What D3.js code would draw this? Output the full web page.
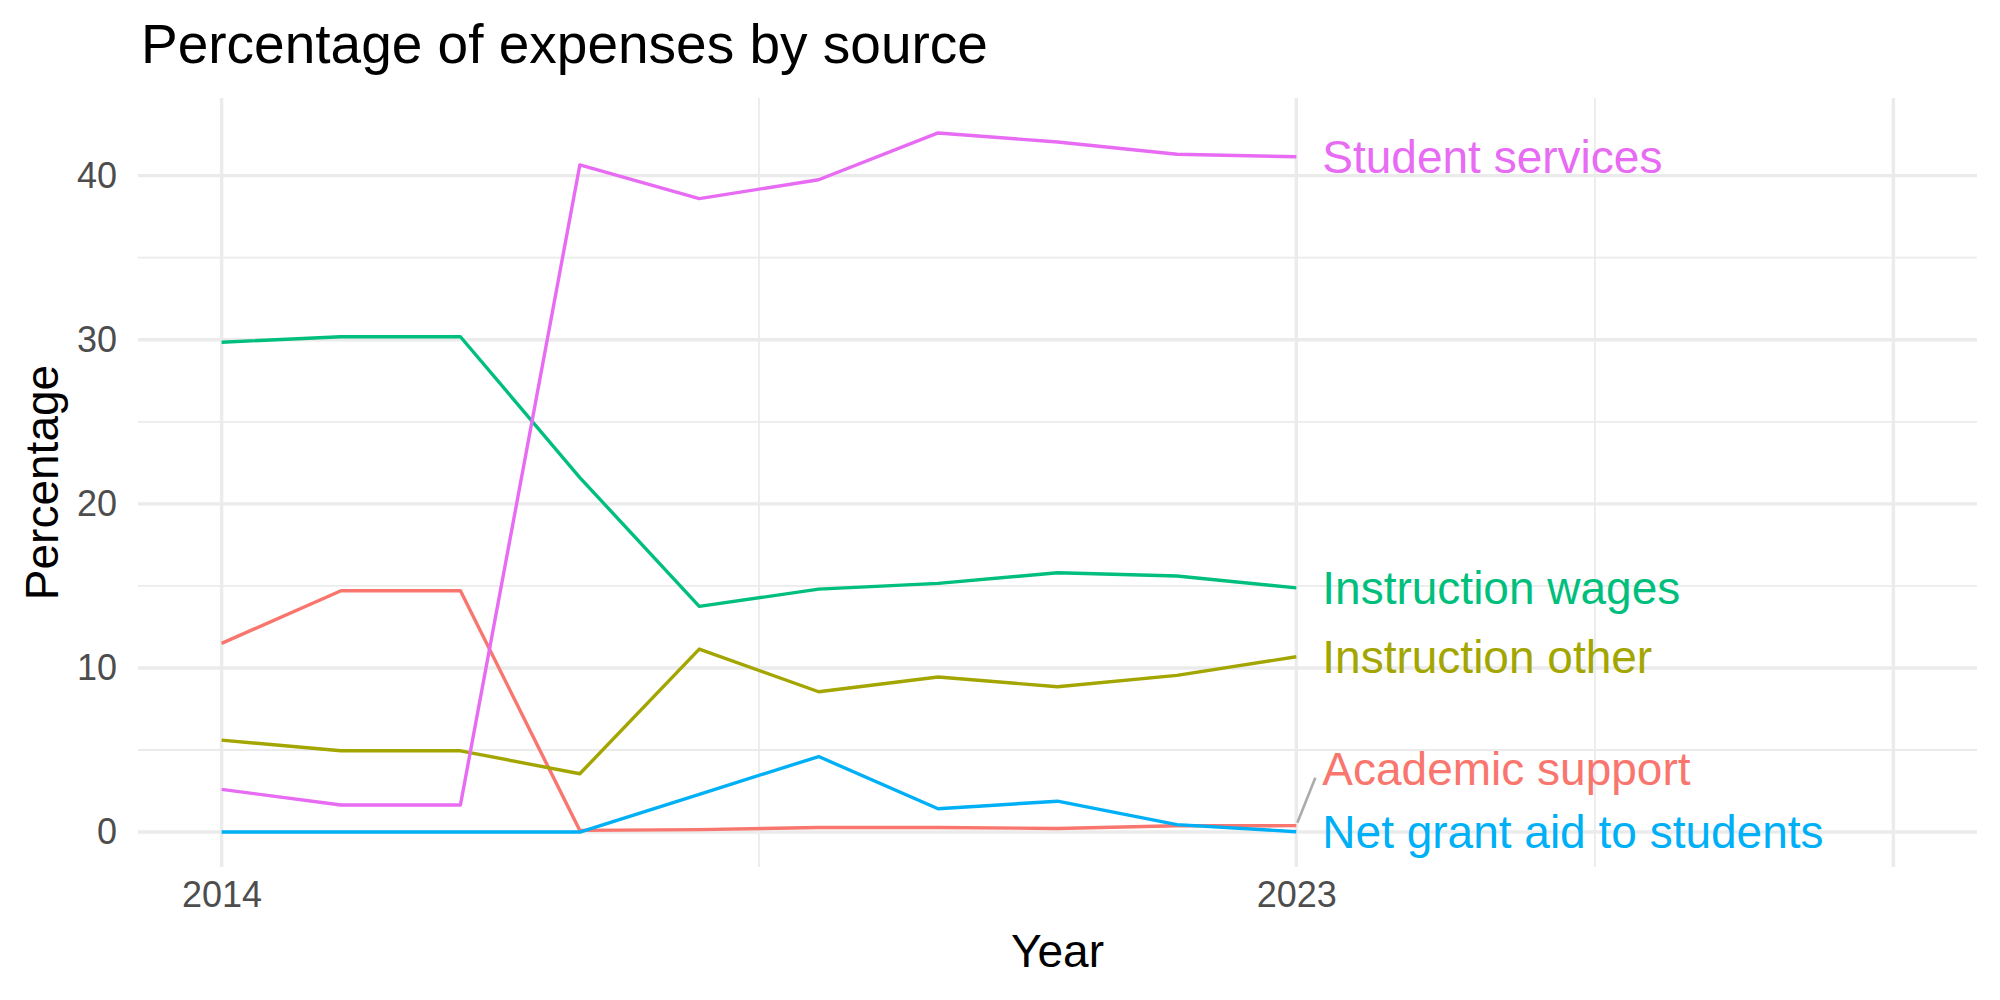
<!DOCTYPE html>
<html>
<head>
<meta charset="utf-8">
<script src="https://cdn.jsdelivr.net/npm/d3@7"></script>
<style>
  body { margin: 0; background: #fff; }
  svg { display: block; }
  text { font-family: "Liberation Sans", Arial, Helvetica, sans-serif; }
</style>
</head>
<body>
<div id="chart"></div>
<script>
// data
const years = [2014, 2015, 2016, 2017, 2018, 2019, 2020, 2021, 2022, 2023];
const sources = ["Academic support", "Instruction other", "Instruction wages", "Net grant aid to students", "Student services"];
const academicSupport  = [11.5, 14.7, 14.7, 0.1, 0.15, 0.28, 0.28, 0.22, 0.38, 0.39];
const instructionOther = [5.6, 4.95, 4.95, 3.55, 11.15, 8.55, 9.45, 8.85, 9.55, 10.68];
const instructionWages = [29.85, 30.18, 30.18, 21.6, 13.75, 14.8, 15.15, 15.8, 15.6, 14.88];
const netGrantAid      = [0, 0, 0, 0, 2.3, 4.6, 1.42, 1.88, 0.45, 0.02];
const studentServices  = [2.6, 1.65, 1.65, 40.65, 38.6, 39.75, 42.6, 42.05, 41.3, 41.15];
const palette = ["#F8766D", "#A3A500", "#00BF7D", "#00B0F6", "#E76BF3"];

const xLimits = [2014, 2028];          // x range kept wide for the end labels
const xMajor = [2014, 2023, 2028];
const xMinor = [2018.5, 2025.5];
const xLabelled = [2014, 2023];
const yMajor = [0, 10, 20, 30, 40];
const yMinor = [5, 15, 25, 35];

(function() {
    const width = 2000
    const height = 1000
    const panel = { left: 138, right: 1977, top: 98, bottom: 867 }

    const svg = d3.select("#chart")
        .append("svg")
        .attr("width", width)
        .attr("height", height)

    const table = [academicSupport, instructionOther, instructionWages, netGrantAid, studentServices]
        .map((vals, i) => ({
            name: sources[i],
            color: palette[i],
            values: vals.map((v, j) => ({ year: years[j], value: v }))
        }))

    // ggplot-like 5% expansion
    const xPad = (xLimits[1] - xLimits[0]) * 0.05
    const x = d3.scaleLinear()
        .domain([xLimits[0] - xPad, xLimits[1] + xPad])
        .range([panel.left, panel.right])

    const allVals = table.flatMap(s => s.values.map(d => d.value))
    const yMin = d3.min(allVals), yMax = d3.max(allVals)
    const yPad = (yMax - yMin) * 0.05
    const y = d3.scaleLinear()
        .domain([yMin - yPad, yMax + yPad])
        .range([panel.bottom, panel.top])

    // grid
    const grid = svg.append("g")
    grid.selectAll(".ymin").data(yMinor).join("line")
        .attr("x1", panel.left).attr("x2", panel.right)
        .attr("y1", d => y(d)).attr("y2", d => y(d))
        .attr("stroke", "#EBEBEB").attr("stroke-width", 1.8)
    grid.selectAll(".xmin").data(xMinor).join("line")
        .attr("x1", d => x(d)).attr("x2", d => x(d))
        .attr("y1", panel.top).attr("y2", panel.bottom)
        .attr("stroke", "#EBEBEB").attr("stroke-width", 1.8)
    grid.selectAll(".ymaj").data(yMajor).join("line")
        .attr("x1", panel.left).attr("x2", panel.right)
        .attr("y1", d => y(d)).attr("y2", d => y(d))
        .attr("stroke", "#EBEBEB").attr("stroke-width", 3.4)
    grid.selectAll(".xmaj").data(xMajor).join("line")
        .attr("x1", d => x(d)).attr("x2", d => x(d))
        .attr("y1", panel.top).attr("y2", panel.bottom)
        .attr("stroke", "#EBEBEB").attr("stroke-width", 3.4)

    // axes (labels only)
    const yAxis = svg.append("g")
        .attr("transform", `translate(${panel.left},0)`)
        .call(d3.axisLeft(y).tickValues(yMajor).tickSize(0).tickPadding(21))
    const xAxis = svg.append("g")
        .attr("transform", `translate(0,${panel.bottom})`)
        .call(d3.axisBottom(x).tickValues(xLabelled).tickFormat(d3.format("d")).tickSize(0).tickPadding(14))
    ;[yAxis, xAxis].forEach(a => {
        a.select(".domain").remove()
        a.selectAll("text")
            .attr("fill", "#4D4D4D")
            .style("font-size", "36px")
            .style("font-family", '"Liberation Sans", Arial, sans-serif')
    })

    // lines
    const line = d3.line().x(d => x(d.year)).y(d => y(d.value))
    svg.append("g").selectAll("path")
        .data(table)
        .join("path")
        .attr("d", d => line(d.values))
        .attr("fill", "none")
        .attr("stroke", d => d.color)
        .attr("stroke-width", 3.4)
        .attr("stroke-linejoin", "round")

    // end labels, pushed apart like ggrepel
    const fontSize = 46
    const gap = 63
    const labelX = x(years[years.length - 1]) + 26
    const ends = table.map(s => {
        const last = s.values[s.values.length - 1]
        return { name: s.name, color: s.color, py: y(last.value), px: x(last.year) }
    }).sort((a, b) => b.py - a.py)

    let prev = null
    ends.forEach(e => {
        let ly = Math.min(e.py, panel.bottom - 0.66 * fontSize)
        if (prev !== null) ly = Math.min(ly, prev - gap)
        e.ly = ly
        prev = ly
    })

    const labels = svg.append("g")
    labels.selectAll("line")
        .data(ends.filter(e => Math.abs(e.ly - e.py) > 12))
        .join("line")
        .attr("x1", d => d.px + 1).attr("y1", d => d.py - 3)
        .attr("x2", labelX - 7).attr("y2", d => d.ly + 9)
        .attr("stroke", "#ABABAB")
        .attr("stroke-width", 2.6)
    labels.selectAll("text")
        .data(ends)
        .join("text")
        .attr("x", labelX)
        .attr("y", d => d.ly + 0.36 * fontSize)
        .attr("fill", d => d.color)
        .style("font-size", fontSize + "px")
        .text(d => d.name)

    // titles
    svg.append("text")
        .attr("x", 141).attr("y", 63)
        .style("font-size", "55px")
        .attr("fill", "#000")
        .text("Percentage of expenses by source")

    svg.append("text")
        .attr("x", (panel.left + panel.right) / 2).attr("y", 967)
        .attr("text-anchor", "middle")
        .style("font-size", "46px")
        .attr("fill", "#000")
        .text("Year")

    svg.append("text")
        .attr("transform", `translate(58,${(panel.top + panel.bottom) / 2}) rotate(-90)`)
        .attr("text-anchor", "middle")
        .style("font-size", "46px")
        .attr("fill", "#000")
        .text("Percentage")
})();
</script>
</body>
</html>
